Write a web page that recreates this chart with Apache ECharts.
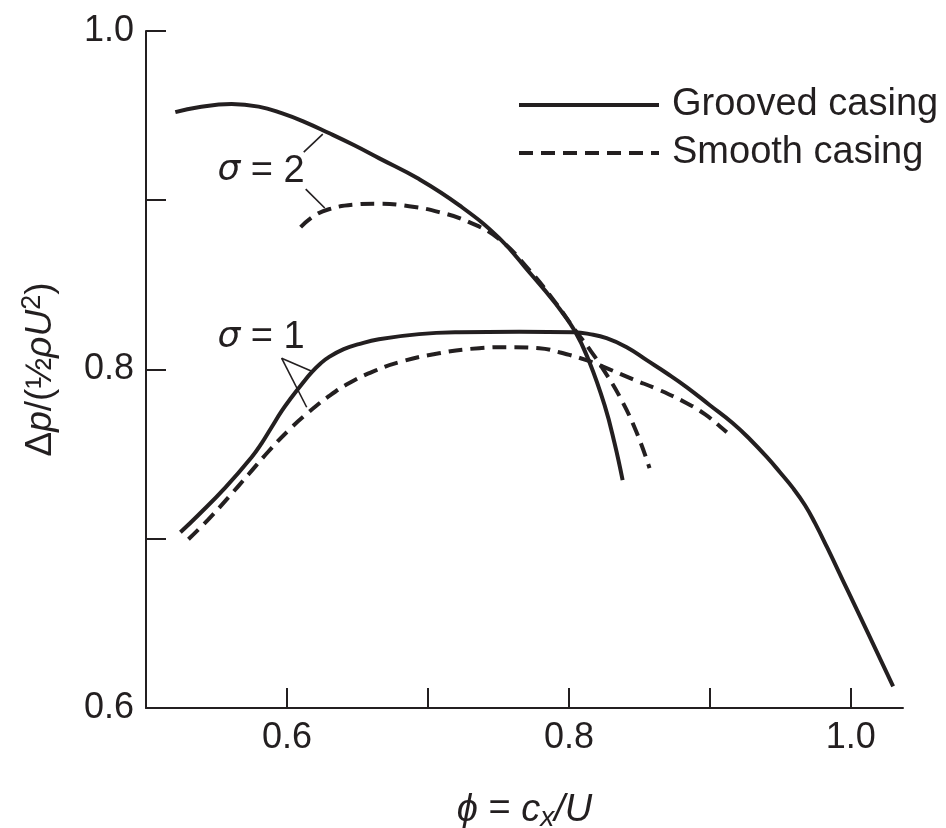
<!DOCTYPE html>
<html>
<head>
<meta charset="utf-8">
<script src="https://cdn.jsdelivr.net/npm/echarts@6/dist/echarts.min.js"></script>
<style>
html,body{margin:0;padding:0;background:#fff;}
#chart{width:946px;height:828px;}
</style>
</head>
<body>
<div id="chart"></div>
<script>
// Flow coefficient (x) and pressure-rise coefficient (y)
const groovedS2X = [0.5208,0.5372,0.5607,0.5799,0.5962,0.6119,0.6297,0.6474,0.6652,0.6937,0.7221,0.7506,0.7719,0.7897,0.8039,0.8146,0.8253,0.8324,0.8381];
const groovedS2Y = [0.9521,0.9550,0.9568,0.9553,0.9515,0.9465,0.9397,0.9326,0.9249,0.9125,0.8971,0.8776,0.8575,0.8398,0.8232,0.8043,0.7789,0.7564,0.7346];

const smoothS2X = [0.6097,0.6190,0.6297,0.6474,0.6652,0.6866,0.7079,0.7292,0.7506,0.7719,0.7897,0.8039,0.8146,0.8238,0.8359,0.8480,0.8572];
const smoothS2Y = [0.8841,0.8906,0.8947,0.8974,0.8980,0.8965,0.8930,0.8871,0.8770,0.8587,0.8404,0.8238,0.8120,0.8008,0.7842,0.7629,0.7417];

const groovedS1X = [0.5244,0.5370,0.5564,0.5749,0.5820,0.5891,0.5962,0.6033,0.6105,0.6176,0.6240,0.6297,0.6403,0.6510,0.6652,0.6937,0.7221,0.7648,0.8040,0.8147,0.8267,0.8410,0.8552,0.8694,0.8837,0.9000,0.9163,0.9284,0.9405,0.9497,0.9590,0.9675,0.9746,0.9831,0.9973,1.0115,1.0300];
const groovedS1Y = [0.7038,0.7139,0.7304,0.7482,0.7564,0.7659,0.7754,0.7836,0.7913,0.7984,0.8037,0.8073,0.8120,0.8150,0.8179,0.8209,0.8220,0.8223,0.8220,0.8209,0.8185,0.8132,0.8055,0.7978,0.7895,0.7789,0.7683,0.7588,0.7482,0.7393,0.7299,0.7198,0.7092,0.6950,0.6702,0.6454,0.6128];

const smoothS1X = [0.5301,0.5443,0.5585,0.5728,0.5870,0.6012,0.6154,0.6297,0.6439,0.6617,0.6794,0.7079,0.7363,0.7577,0.7790,0.7932,0.8124,0.8267,0.8452,0.8644,0.8836,0.8964,0.9070,0.9120];
const smoothS1Y = [0.6997,0.7115,0.7245,0.7381,0.7517,0.7641,0.7748,0.7842,0.7919,0.7990,0.8043,0.8096,0.8126,0.8132,0.8126,0.8102,0.8055,0.8008,0.7943,0.7878,0.7801,0.7736,0.7665,0.7629];

const xTicks = [0.6,0.7,0.8,0.9,1.0];
const xLabels = [0.6,0.8,1.0];
const yTicks = [0.6,0.7,0.8,0.9,1.0];
const yLabels = [0.6,0.8,1.0];
const legendNames = ['Grooved casing','Smooth casing'];

// annotation: sigma labels and leader lines (data coordinates)
const sigmaLabels = [
  {text:'2', at:[0.5507,0.9172]},
  {text:'1', at:[0.5507,0.8190]}
];
const leaderLines = [
  [[0.6119,0.9284],[0.6254,0.9391]],
  [[0.6133,0.9066],[0.6268,0.8954]],
  [[0.5962,0.8067],[0.6176,0.7990]],
  [[0.5962,0.8067],[0.6140,0.7777]]
];

const ink = '#231f20';
const FONT = '"Liberation Sans", Arial, Helvetica, sans-serif';

function pairs(xs, ys){ return xs.map((x,i)=>[x, ys[i]]); }

const chart = echarts.init(document.getElementById('chart'), null, {renderer:'canvas'});

const solid = {color: ink, width: 4, type: 'solid'};
const dashed = {color: ink, width: 4, type: [14, 8]};

const lineCommon = {type: 'line', smooth: 0.45, symbol: 'none', showSymbol: false, color: ink, silent: true};

const option = {
  animation: false,
  backgroundColor: '#fff',
  textStyle: {fontFamily: FONT, color: ink},
  grid: {left: 146, right: 43, top: 31, bottom: 120, containLabel: false, outerBoundsMode: 'none'},
  legend: {
    data: legendNames,
    orient: 'vertical',
    left: 512,
    top: 81,
    itemWidth: 140,
    itemHeight: 26,
    itemGap: 10,
    itemStyle: {color: 'rgba(0,0,0,0)', borderColor: 'rgba(0,0,0,0)', borderWidth: 0, opacity: 0},
    lineStyle: {width: 4},
    textStyle: {fontFamily: FONT, fontSize: 38, color: ink, lineHeight: 26, padding: [0,0,0,8]},
    selectedMode: false
  },
  xAxis: {
    type: 'value',
    min: 0.5, max: 1.037, interval: 0.1,
    name: '{i|ϕ} {n|=} {i|c}{sub|x}{i|/U}',
    nameLocation: 'middle',
    nameGap: 80,
    nameTextStyle: {
      fontFamily: FONT, fontSize: 38, color: ink,
      rich: {
        i: {fontFamily: FONT, fontSize: 38, fontStyle: 'italic', color: ink},
        n: {fontFamily: FONT, fontSize: 38, color: ink},
        sub: {fontFamily: FONT, fontSize: 28, fontStyle: 'italic', color: ink, padding: [16,0,0,0]}
      }
    },
    axisLine: {show: true, onZero: false, lineStyle: {color: ink, width: 2}},
    axisTick: {show: true, inside: true, length: 20, lineStyle: {color: ink, width: 2}, customValues: xTicks},
    axisLabel: {customValues: xLabels, formatter: v => v.toFixed(1), fontFamily: FONT, fontSize: 36, color: ink, margin: 12},
    splitLine: {show: false}
  },
  yAxis: {
    type: 'value',
    min: 0.6, max: 1.0, interval: 0.1,
    name: '{n|Δ}{i|p}{n|/(}{n|½}{i|ρU}{sup|2}{n|)}',
    nameLocation: 'middle',
    nameGap: 84,
    nameTextStyle: {
      fontFamily: FONT, fontSize: 37, color: ink,
      rich: {
        i: {fontFamily: FONT, fontSize: 37, fontStyle: 'italic', color: ink},
        n: {fontFamily: FONT, fontSize: 37, color: ink},
        sup: {fontFamily: FONT, fontSize: 27, color: ink, padding: [0,0,16,0]}
      }
    },
    axisLine: {show: true, onZero: false, lineStyle: {color: ink, width: 2}},
    axisTick: {show: true, inside: true, length: 20, lineStyle: {color: ink, width: 2}, customValues: yTicks},
    axisLabel: {customValues: yLabels, formatter: v => v.toFixed(1), fontFamily: FONT, fontSize: 36, color: ink, margin: 12},
    splitLine: {show: false}
  },
  series: [
    Object.assign({}, lineCommon, {name: legendNames[1], data: pairs(smoothS2X, smoothS2Y), lineStyle: dashed, z: 2}),
    Object.assign({}, lineCommon, {name: legendNames[1], data: pairs(smoothS1X, smoothS1Y), lineStyle: dashed, z: 2}),
    Object.assign({}, lineCommon, {
      name: legendNames[0], data: pairs(groovedS2X, groovedS2Y), lineStyle: solid, z: 3,
      markLine: {
        silent: true, symbol: 'none', animation: false,
        lineStyle: {color: ink, width: 1.6, type: 'solid'},
        label: {show: false},
        data: leaderLines.map(l => [{coord: l[0]}, {coord: l[1]}])
      },
      markPoint: {
        silent: true, symbol: 'circle', symbolSize: 0, animation: false,
        label: {
          show: true, position: 'right', distance: 0,
          fontFamily: FONT, fontSize: 38, color: ink,
          rich: {
            s: {fontFamily: '"DejaVu Sans", sans-serif', fontSize: 36, fontStyle: 'italic', color: ink},
            n: {fontFamily: FONT, fontSize: 38, color: ink}
          }
        },
        data: sigmaLabels.map(s => ({coord: s.at, value: s.text, label: {formatter: '{s|σ}{n| = ' + s.text + '}'}}))
      }
    }),
    Object.assign({}, lineCommon, {name: legendNames[0], data: pairs(groovedS1X, groovedS1Y), lineStyle: solid, z: 3})
  ]
};
chart.setOption(option);
</script>
</body>
</html>
